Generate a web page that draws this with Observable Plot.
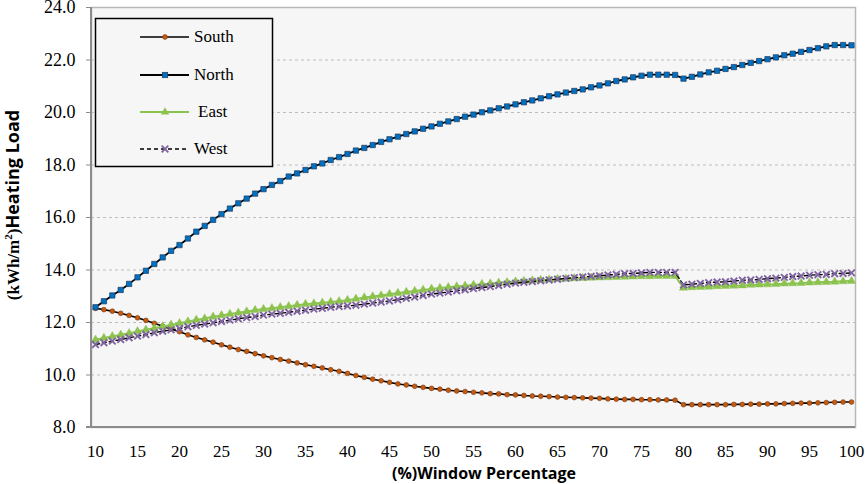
<!DOCTYPE html>
<html><head><meta charset="utf-8">
<script src="https://cdn.jsdelivr.net/npm/d3@7"></script>
<script src="https://cdn.jsdelivr.net/npm/@observablehq/plot@0.6"></script>
<style>
body{margin:0;background:#fff;}
#chart{width:865px;height:484px;}
</style></head><body><div id="chart"></div>
<script>
const windowPct = [10,11,12,13,14,15,16,17,18,19,20,21,22,23,24,25,26,27,28,29,30,31,32,33,34,35,36,37,38,39,40,41,42,43,44,45,46,47,48,49,50,51,52,53,54,55,56,57,58,59,60,61,62,63,64,65,66,67,68,69,70,71,72,73,74,75,76,77,78,79,80,81,82,83,84,85,86,87,88,89,90,91,92,93,94,95,96,97,98,99,100];

const south = [12.54,12.49,12.43,12.35,12.27,12.18,12.08,11.97,11.86,11.75,11.65,11.53,11.43,11.34,11.25,11.15,11.06,10.97,10.90,10.81,10.73,10.66,10.59,10.53,10.46,10.39,10.33,10.27,10.20,10.14,10.06,9.98,9.91,9.84,9.78,9.72,9.66,9.62,9.57,9.53,9.49,9.46,9.42,9.39,9.37,9.34,9.32,9.29,9.28,9.25,9.24,9.22,9.20,9.19,9.18,9.16,9.15,9.14,9.13,9.12,9.11,9.09,9.08,9.07,9.07,9.06,9.06,9.05,9.05,9.04,8.87,8.87,8.87,8.87,8.87,8.87,8.88,8.88,8.89,8.89,8.90,8.90,8.91,8.92,8.93,8.93,8.94,8.95,8.96,8.97,8.97];

const north = [12.58,12.81,13.03,13.24,13.47,13.72,13.97,14.23,14.48,14.73,14.95,15.20,15.46,15.68,15.91,16.13,16.34,16.54,16.72,16.91,17.08,17.24,17.39,17.56,17.68,17.81,17.95,18.06,18.19,18.30,18.42,18.55,18.65,18.76,18.88,18.98,19.08,19.18,19.28,19.38,19.47,19.57,19.66,19.75,19.84,19.92,20.01,20.08,20.16,20.23,20.31,20.39,20.46,20.54,20.62,20.69,20.76,20.82,20.88,20.96,21.03,21.11,21.20,21.26,21.34,21.40,21.44,21.44,21.44,21.43,21.29,21.36,21.45,21.53,21.59,21.66,21.73,21.81,21.89,21.96,22.03,22.10,22.18,22.24,22.31,22.38,22.45,22.52,22.57,22.57,22.56];

const east = [11.34,11.41,11.47,11.53,11.59,11.66,11.72,11.78,11.85,11.91,11.97,12.04,12.10,12.15,12.22,12.27,12.32,12.37,12.42,12.47,12.51,12.54,12.58,12.62,12.66,12.70,12.72,12.75,12.78,12.81,12.85,12.90,12.95,12.99,13.03,13.08,13.12,13.16,13.20,13.24,13.28,13.31,13.34,13.37,13.40,13.43,13.46,13.48,13.51,13.53,13.56,13.58,13.60,13.62,13.63,13.65,13.66,13.68,13.69,13.70,13.71,13.72,13.73,13.74,13.75,13.76,13.76,13.77,13.77,13.77,13.32,13.34,13.35,13.36,13.38,13.39,13.40,13.41,13.43,13.44,13.45,13.46,13.48,13.49,13.50,13.52,13.53,13.54,13.55,13.57,13.58];

const west = [11.16,11.23,11.29,11.35,11.42,11.48,11.54,11.61,11.67,11.72,11.77,11.84,11.89,11.94,11.99,12.04,12.09,12.14,12.19,12.23,12.28,12.32,12.35,12.39,12.43,12.47,12.51,12.54,12.58,12.61,12.63,12.66,12.70,12.74,12.78,12.82,12.87,12.92,12.97,13.03,13.08,13.12,13.16,13.21,13.25,13.29,13.33,13.37,13.41,13.46,13.50,13.53,13.56,13.59,13.62,13.65,13.68,13.71,13.73,13.76,13.78,13.81,13.83,13.86,13.87,13.89,13.91,13.91,13.91,13.91,13.43,13.46,13.49,13.52,13.54,13.55,13.58,13.61,13.62,13.64,13.67,13.69,13.72,13.75,13.77,13.80,13.82,13.83,13.86,13.87,13.89];

const xTicks = [10,15,20,25,30,35,40,45,50,55,60,65,70,75,80,85,90,95,100];
const yTicks = [8,10,12,14,16,18,20,22,24];
const seriesNames = ["South","North","East","West"];
const xTitle = "(%)Window Percentage";

const SERIF = '"Liberation Serif", "Times New Roman", serif';
const SANS = '"Open Sans", "Liberation Sans", sans-serif';

const rows = s => windowPct.map((p, i) => ({x: p, y: s[i]}));
const S = rows(south), N = rows(north), E = rows(east), W = rows(west);

const colors = {south:"#c55a11", north:"#0070c0", east:"#8cc24e", west:"#8064a2"};

const chart = Plot.plot({
  width: 865, height: 484,
  marginLeft: 91, marginRight: 10, marginTop: 7, marginBottom: 57,
  style: {background: "#fff", fontSize: "17px", fontFamily: SERIF, color: "#000", overflow: "visible"},
  x: {domain: [10, 100], inset: 4, label: null},
  y: {domain: [8, 24], label: null},
  marks: [
    Plot.frame({fill: "#f6f6f6", stroke: "#b8b8b8", strokeWidth: 1.5}),
    Plot.ruleY(yTicks.filter(t => t > 8 && t < 24), {stroke: "#bdbdbd", strokeDasharray: "3,3", strokeWidth: 1}),
    Plot.axisY({ticks: yTicks, tickSize: 5, tickPadding: 11, stroke: "#8c8c8c", fill: "#000", fontSize: 18, tickFormat: d => d.toFixed(1), label: null}),
    Plot.axisX({ticks: xTicks, tickSize: 0, tickPadding: 17, fill: "#000", fontSize: 17, tickFormat: d => String(d), label: null}),
    // South
    Plot.line(S, {x: "x", y: "y", stroke: "#000", strokeWidth: 1.6}),
    Plot.dot(S, {x: "x", y: "y", r: 2.4, fill: colors.south, stroke: "#7a3306", strokeWidth: 0.6}),
    // North
    Plot.line(N, {x: "x", y: "y", stroke: "#000", strokeWidth: 1.8}),
    Plot.dot(N, {x: "x", y: "y", r: 3, symbol: "square", fill: colors.north, stroke: "#1f3a60", strokeWidth: 0.7}),
    // East
    Plot.line(E, {x: "x", y: "y", stroke: colors.east, strokeWidth: 2}),
    Plot.dot(E, {x: "x", y: "y", r: 3.1, symbol: "triangle", fill: colors.east, stroke: colors.east, strokeWidth: 0.4}),
    // West
    Plot.line(W, {x: "x", y: "y", stroke: "#000", strokeWidth: 1.4, strokeDasharray: "4,3"}),
    Plot.dot(W, {x: "x", y: "y", r: 3.1, symbol: "times", stroke: colors.west, strokeWidth: 1.9})
  ]
});

const svg = d3.select(chart);
svg.selectAll("text").style("font-family", SERIF);

// axis lines (left & bottom)
svg.append("line").attr("x1", 91).attr("x2", 91).attr("y1", 7).attr("y2", 427).attr("stroke", "#8c8c8c").attr("stroke-width", 2);
svg.append("line").attr("x1", 86).attr("x2", 855).attr("y1", 427).attr("y2", 427).attr("stroke", "#8c8c8c").attr("stroke-width", 2);

// x title
svg.append("text").attr("x", 484).attr("y", 479).attr("text-anchor", "middle")
  .style("font-family", SANS).style("font-weight", "bold").style("font-size", "16px").attr("fill", "#000").text(xTitle);

// y title
const yt = svg.append("text").attr("transform", "translate(19,205) rotate(-90)").attr("text-anchor", "middle")
  .style("font-weight", "bold").attr("fill", "#000");
yt.append("tspan").style("font-family", SERIF).style("font-size", "17px").text("(kWh/m");
yt.append("tspan").style("font-family", SERIF).style("font-size", "11px").attr("dy", -7).text("2");
yt.append("tspan").style("font-family", SERIF).style("font-size", "17px").attr("dy", 7).text(")");
yt.append("tspan").style("font-family", SANS).style("font-size", "18px").text("Heating Load");

// legend
const lg = svg.append("g");
lg.append("rect").attr("x", 95.5).attr("y", 18.5).attr("width", 177).attr("height", 148)
  .attr("fill", "#f6f6f6").attr("stroke", "#000").attr("stroke-width", 1.5);
const rowY = [37, 75, 112, 149];
const lx1 = 140, lx2 = 189, lm = 165;
seriesNames.forEach((name, i) => {
  const y = rowY[i];
  const g = lg.append("g");
  if (name === "South") {
    g.append("line").attr("x1", lx1).attr("x2", lx2).attr("y1", y).attr("y2", y).attr("stroke", "#000").attr("stroke-width", 1.6);
    g.append("circle").attr("cx", lm).attr("cy", y).attr("r", 2.4).attr("fill", colors.south).attr("stroke", "#7a3306").attr("stroke-width", 0.6);
  } else if (name === "North") {
    g.append("line").attr("x1", lx1).attr("x2", lx2).attr("y1", y).attr("y2", y).attr("stroke", "#000").attr("stroke-width", 1.8);
    g.append("rect").attr("x", lm - 2.7).attr("y", y - 2.7).attr("width", 5.4).attr("height", 5.4).attr("fill", colors.north).attr("stroke", "#1f3a60").attr("stroke-width", 0.7);
  } else if (name === "East") {
    g.append("line").attr("x1", lx1).attr("x2", lx2).attr("y1", y).attr("y2", y).attr("stroke", colors.east).attr("stroke-width", 2);
    g.append("path").attr("d", d3.symbol(d3.symbolTriangle, 3.1 * 3.1 * Math.PI)()).attr("transform", `translate(${lm},${y})`).attr("fill", colors.east);
  } else {
    g.append("line").attr("x1", lx1).attr("x2", lx2).attr("y1", y).attr("y2", y).attr("stroke", "#000").attr("stroke-width", 1.4).attr("stroke-dasharray", "4,3");
    g.append("path").attr("d", d3.symbol(d3.symbolTimes, 3.1 * 3.1 * Math.PI)()).attr("transform", `translate(${lm},${y})`).attr("fill", "none").attr("stroke", colors.west).attr("stroke-width", 1.9);
  }
  g.append("text").attr("x", name === "East" ? 198 : 194).attr("y", y).attr("dy", "0.32em").attr("text-anchor", "start")
    .style("font-family", SERIF).style("font-size", "17px").attr("fill", "#000").text(name);
});

document.getElementById("chart").appendChild(chart);
</script>
</body></html>
